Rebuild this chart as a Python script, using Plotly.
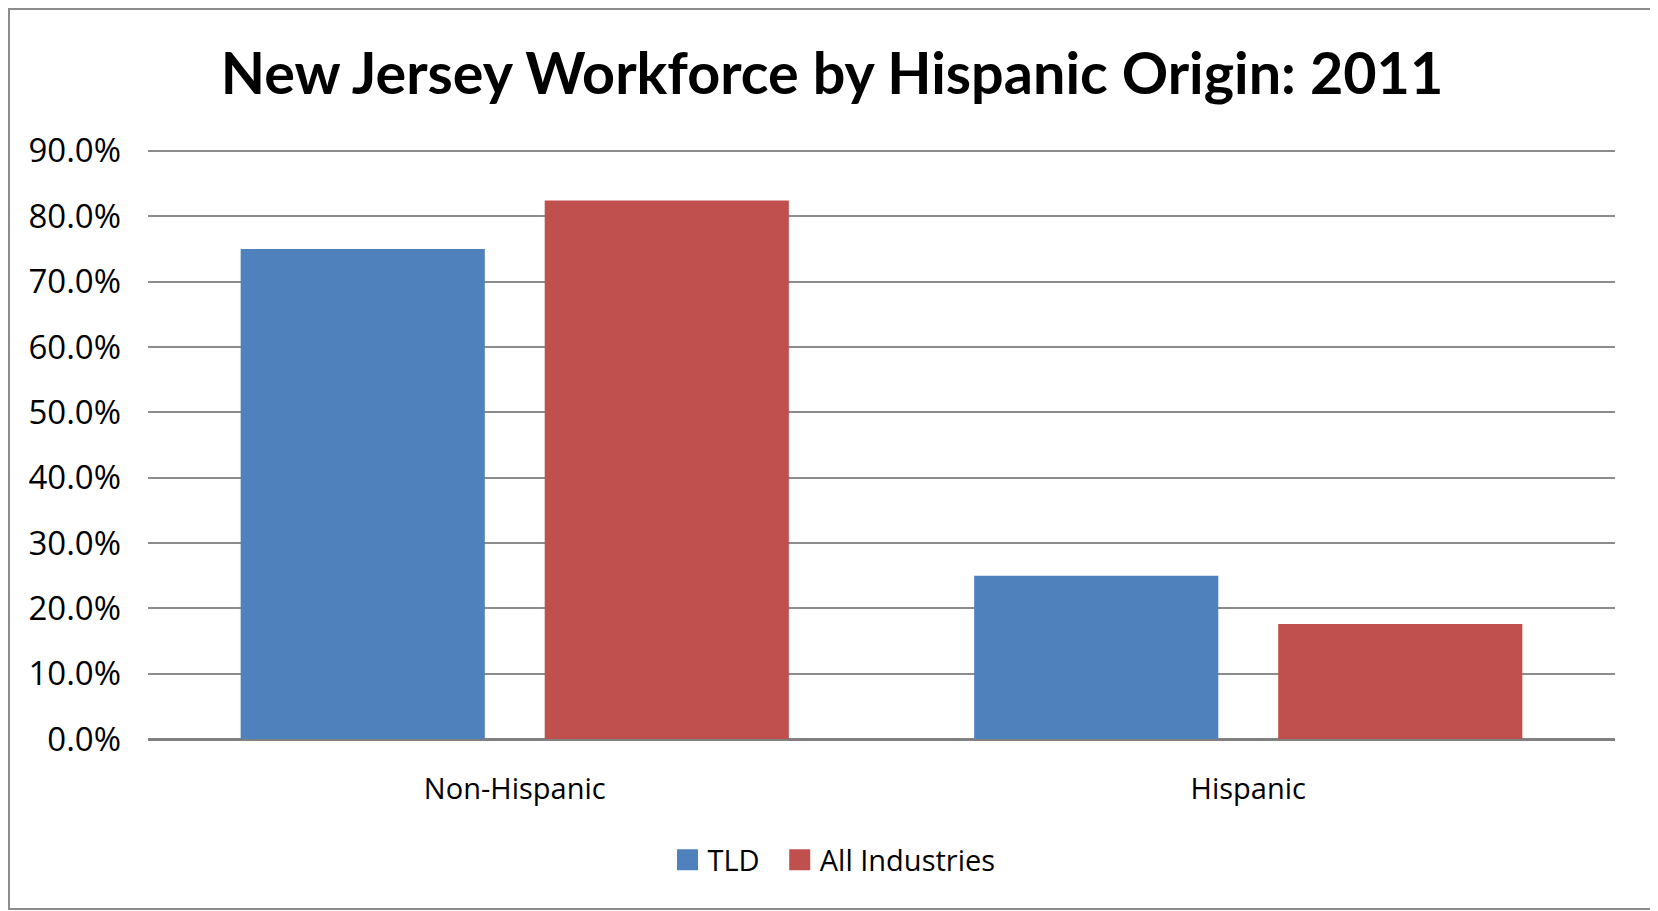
import plotly.graph_objects as go

categories = ["Non-Hispanic", "Hispanic"]
series_names = ["TLD", "All Industries"]
tld_values = [0.750, 0.250]
all_ind_values = [0.824, 0.176]
y_tick_values = [0.0, 0.1, 0.2, 0.3, 0.4, 0.5, 0.6, 0.7, 0.8, 0.9]
y_tick_labels = ["0.0%", "10.0%", "20.0%", "30.0%", "40.0%", "50.0%", "60.0%", "70.0%", "80.0%", "90.0%"]
title_text = "New Jersey Workforce by Hispanic Origin: 2011"

W, H = 1658, 911
OFF = 8  # page body margin
Y_MAX = 0.906  # a little headroom so the 90% gridline is drawn
Y_TOP_GRID = 151 - OFF  # pixel of the 90% gridline
PL, PR, PB = 148 - OFF, 1615 - OFF, 739 - OFF
PT = PB - (PB - Y_TOP_GRID) * Y_MAX / 0.9

BLUE = "#4F81BD"
RED = "#C0504D"
GRID = "#8C8C8C"
colors = [BLUE, RED]
legend_pad = ["\u00a0\u00a0", ""]  # extra spacing after the first legend entry

fig = go.Figure()
for name, vals, col in zip(series_names, [tld_values, all_ind_values], colors):
    fig.add_trace(go.Bar(name=name, x=categories, y=vals, showlegend=False,
                         marker=dict(color=col, line=dict(width=0))))
# legend entries with larger square swatches
for name, col, pad in zip(series_names, colors, legend_pad):
    fig.add_trace(go.Scatter(name=name + pad, x=[categories[0]], y=[None], mode="markers",
                             showlegend=True, hoverinfo="skip",
                             marker=dict(symbol="square", size=16, color=col,
                                         line=dict(color=col, width=5))))

pw = PR - PL
ph = PB - PT
def px_to_paper_x(px):
    return (px - PL) / pw
def px_to_paper_y(py):
    return (PB - py) / ph

fig.update_layout(
    width=W, height=H,
    margin=dict(l=PL, r=W - PR, t=PT, b=H - PB, autoexpand=False),
    paper_bgcolor="white", plot_bgcolor="white",
    barmode="group", bargap=0.171, bargroupgap=0.197,
    title=dict(text="<b>" + title_text + "</b>", x=(832 - OFF) / W, xref="container", xanchor="center",
               y=1 - (74 - OFF) / H, yref="container", yanchor="middle",
               font=dict(family="Lato", size=57.5, color="black")),
    font=dict(family="Open Sans", color="black"),
    showlegend=True,
    legend=dict(orientation="h", x=(834 - OFF) / W, xref="container", xanchor="center",
                y=1 - (860 - OFF) / H, yref="container", yanchor="middle",
                font=dict(family="Open Sans", size=29, color="black"),
                itemwidth=30, traceorder="normal"),
    xaxis=dict(showgrid=False, showline=False, zeroline=False, ticks="",
               tickfont=dict(family="Open Sans", size=29, color="black"),
               ticklabelstandoff=30),
    yaxis=dict(range=[0, Y_MAX], tickvals=y_tick_values, ticktext=y_tick_labels,
               showgrid=True, gridcolor=GRID, gridwidth=2,
               zeroline=True, zerolinecolor="#808080", zerolinewidth=3,
               showline=False, ticks="",
               tickfont=dict(family="Open Sans", size=33, color="black"),
               ticklabelstandoff=26),
    shapes=[dict(type="rect", xref="paper", yref="paper",
                 x0=px_to_paper_x(1), x1=px_to_paper_x(1653 - OFF),
                 y0=px_to_paper_y(909 - OFF), y1=px_to_paper_y(1),
                 line=dict(color="#8C8C8C", width=2), fillcolor="rgba(0,0,0,0)", layer="below")],
)

fig.write_html("out.html")
